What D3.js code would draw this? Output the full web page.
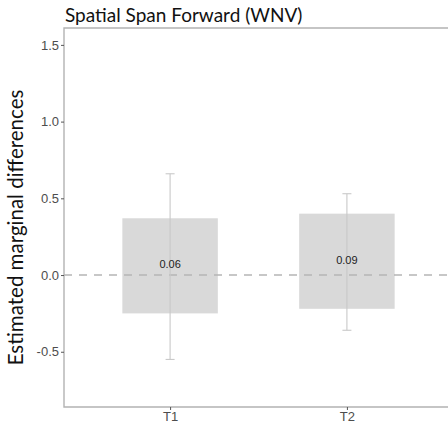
<!DOCTYPE html>
<html>
<head>
<meta charset="utf-8">
<script src="https://cdn.jsdelivr.net/npm/d3@7"></script>
<style>
  html, body { margin: 0; padding: 0; background: #fff; }
  svg { display: block; }
</style>
</head>
<body>
<svg id="chart" width="448" height="432"></svg>
<script>
// Time points and their estimated marginal differences
const categories = ["T1", "T2"];
const estimates = [0.06, 0.09];
// shaded band around each estimate
const bandLow = [-0.25, -0.22];
const bandHigh = [0.37, 0.40];
// whisker interval around each estimate
const whiskerLow = [-0.55, -0.36];
const whiskerHigh = [0.66, 0.53];
// y axis ticks
const yTickValues = [-0.5, 0.0, 0.5, 1.0, 1.5];
const yTickLabels = ["-0.5", "0.0", "0.5", "1.0", "1.5"];

const svg = d3.select("#chart");
const panel = { left: 64, right: 453, top: 28, bottom: 407 };

const x = d3.scalePoint()
  .domain(categories)
  .range([panel.left, panel.right])
  .padding(0.6);
const barWidth = x.step() * 0.54;

const y = d3.scaleLinear()
  .domain([-0.86, 1.61])
  .range([panel.bottom, panel.top]);

const rows = categories.map((c, i) => ({
  cat: c, est: estimates[i],
  lo: bandLow[i], hi: bandHigh[i],
  wlo: whiskerLow[i], whi: whiskerHigh[i]
}));

// bars spanning the shaded interval
svg.append("g").selectAll("rect")
  .data(rows)
  .join("rect")
  .attr("x", d => x(d.cat) - barWidth / 2)
  .attr("width", barWidth)
  .attr("y", d => y(d.hi))
  .attr("height", d => y(d.lo) - y(d.hi))
  .attr("fill", "#d9d9d9");

// reference line at zero
svg.append("line")
  .attr("x1", panel.left).attr("x2", panel.right)
  .attr("y1", y(0)).attr("y2", y(0))
  .attr("stroke", "#b5b5b5")
  .attr("stroke-width", 1.6)
  .attr("stroke-dasharray", "8,7");

// whiskers
const whisk = svg.append("g").attr("stroke", "#c9c9c9").attr("stroke-width", 1.1).attr("fill", "none");
rows.forEach(d => {
  const cx = x(d.cat);
  whisk.append("line").attr("x1", cx).attr("x2", cx).attr("y1", y(d.whi)).attr("y2", y(d.wlo));
  whisk.append("line").attr("x1", cx - 4.5).attr("x2", cx + 4.5).attr("y1", y(d.whi)).attr("y2", y(d.whi));
  whisk.append("line").attr("x1", cx - 4.5).attr("x2", cx + 4.5).attr("y1", y(d.wlo)).attr("y2", y(d.wlo));
});

// estimate labels
svg.append("g").selectAll("text")
  .data(rows)
  .join("text")
  .attr("x", d => x(d.cat))
  .attr("y", d => y(d.est) + 2.3)
  .attr("text-anchor", "middle")
  .attr("font-family", "Liberation Sans, Arial, sans-serif")
  .attr("font-size", 11)
  .attr("fill", "#222")
  .text(d => d.est.toFixed(2));

// panel border
const borderColor = "#b3b3b3";
svg.append("path")
  .attr("d", `M${panel.right},${panel.top}H${panel.left}V${panel.bottom}H${panel.right}`)
  .attr("fill", "none")
  .attr("stroke", borderColor)
  .attr("stroke-width", 1.4);

// y axis
const yAxis = d3.axisLeft(y)
  .tickValues(yTickValues)
  .tickFormat((d, i) => yTickLabels[i])
  .tickSize(3)
  .tickPadding(2);
const gy = svg.append("g").attr("transform", `translate(${panel.left},0)`).call(yAxis);
gy.select(".domain").remove();
gy.selectAll(".tick line").attr("stroke", "#555").attr("stroke-width", 1);
gy.selectAll(".tick text")
  .attr("font-family", "Liberation Sans, Arial, sans-serif")
  .attr("font-size", 13)
  .attr("fill", "#4d4d4d");

// x axis
const xAxis = d3.axisBottom(x).tickSize(3).tickPadding(2);
const gx = svg.append("g").attr("transform", `translate(0,${panel.bottom})`).call(xAxis);
gx.select(".domain").remove();
gx.selectAll(".tick line").attr("stroke", "#555").attr("stroke-width", 1);
gx.selectAll(".tick text")
  .attr("font-family", "Liberation Sans, Arial, sans-serif")
  .attr("font-size", 13)
  .attr("fill", "#4d4d4d");

// title
svg.append("text")
  .attr("x", 65).attr("y", 22)
  .attr("font-family", "Lato, 'Open Sans', sans-serif")
  .attr("font-size", 19)
  .attr("fill", "#111")
  .text("Spatial Span Forward (WNV)");

// y axis title
svg.append("text")
  .attr("transform", `translate(23,${(panel.top + panel.bottom) / 2 + 10}) rotate(-90)`)
  .attr("text-anchor", "middle")
  .attr("font-family", "Lato, 'Open Sans', sans-serif")
  .attr("font-size", 20.5)
  .attr("fill", "#111")
  .text("Estimated marginal differences");
</script>
</body>
</html>
